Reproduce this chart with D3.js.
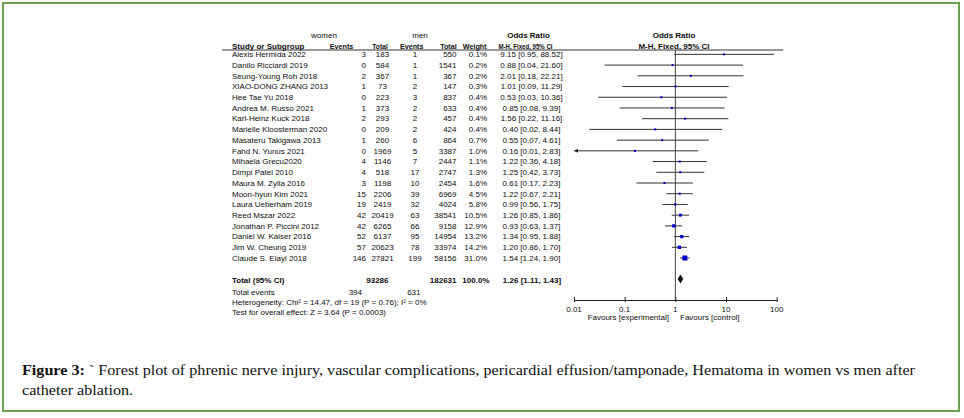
<!DOCTYPE html>
<html>
<head>
<meta charset="utf-8">
<script src="https://cdn.jsdelivr.net/npm/d3@7"></script>
<style>
html,body{margin:0;padding:0;background:#fff;}
svg{display:block;}
text{font-family:"Liberation Sans",Arial,sans-serif;fill:#0e0e0e;}
text.narrow{font-family:"Liberation Sans Narrow","Arial Narrow","Liberation Sans",sans-serif;}
</style>
</head>
<body>
<svg id="chart" width="964" height="418"></svg>
<script>
const studies = ["Alexis Hermida 2022","Danilo Ricciardi 2019","Seung-Young Roh 2018","XIAO-DONG ZHANG 2013","Hee Tae Yu 2018","Andrea M. Russo 2021","Karl-Heinz Kuck 2018","Marielle Kloosterman 2020","Masateru Takigawa 2013","Fahd N. Yunus 2021","Mihaela Grecu2020","Dimpi Patel 2010","Maura M. Zylla 2016","Moon-hyun Kim 2021","Laura Ueberham 2019","Reed Mszar 2022","Jonathan P. Piccini 2012","Daniel W. Kaiser 2016","Jim W. Cheung 2019","Claude S. Elayi 2018"];
const womenEvents = [3,0,2,1,0,1,2,0,1,0,4,4,3,15,19,42,42,52,57,146];
const womenTotal = [183,584,367,73,223,373,293,209,260,1969,1146,518,1198,2206,2419,20419,6265,6137,20623,27821];
const menEvents = [1,1,1,2,3,2,2,2,6,5,7,17,10,39,32,63,66,95,78,199];
const menTotal = [550,1541,367,147,837,633,457,424,864,3387,2447,2747,2454,6969,4024,38541,9158,14954,33974,58156];
const weights = [0.1,0.2,0.2,0.3,0.4,0.4,0.4,0.4,0.7,1.0,1.1,1.3,1.6,4.5,5.8,10.5,12.9,13.2,14.2,31.0];
const oddsRatio = [9.15,0.88,2.01,1.01,0.53,0.85,1.56,0.40,0.55,0.16,1.22,1.25,0.61,1.22,0.99,1.26,0.93,1.34,1.20,1.54];
const ciLow = [0.95,0.04,0.18,0.09,0.03,0.08,0.22,0.02,0.07,0.01,0.36,0.42,0.17,0.67,0.56,0.85,0.63,0.95,0.86,1.24];
const ciHigh = [88.52,21.60,22.21,11.29,10.36,9.39,11.16,8.44,4.61,2.83,4.18,3.73,2.23,2.21,1.75,1.86,1.37,1.88,1.70,1.90];
const total = {women:93286, men:182631, weight:"100.0%", or:1.26, lo:1.11, hi:1.43};
const totalEvents = {women:394, men:631};
const axisTicks = [0.01, 0.1, 1, 10, 100];
const tickLabels = ["0.01","0.1","1","10","100"];
const heterogeneity = "Heterogeneity: Chi² = 14.47, df = 19 (P = 0.76); I² = 0%";
const overallTest = "Test for overall effect: Z = 3.64 (P = 0.0003)";
const captionBold = "Figure 3:";
const captionLine1 = " ` Forest plot of phrenic nerve injury, vascular complications, pericardial effusion/tamponade, Hematoma in women vs men after";
const captionLine2 = "catheter ablation.";

const svg = d3.select("#chart");
const fmt2 = d3.format(".2f");
const ciText = (o,l,h) => `${fmt2(o)} [${fmt2(l)}, ${fmt2(h)}]`;

// border
svg.append("rect").attr("x",3).attr("y",3).attr("width",956).attr("height",408)
  .attr("fill","none").attr("stroke","#6e9f52").attr("stroke-width",2);

const x = d3.scaleLog().domain([0.01,100]).range([574,776.7]);
const y = d3.scaleBand().domain(studies).range([49,49+studies.length*10.72]);
const yc = s => y(s) + y.bandwidth()/2;

const FS = 8;
function txt(xp, yp, s, anchor="start", bold=false, len=null) {
  const t = svg.append("text").attr("x",xp).attr("y",yp).attr("dy","0.35em")
    .attr("text-anchor",anchor).attr("font-size",FS)
    .attr("font-weight", bold ? "bold" : "normal").text(s);
  if (len) {
    t.attr("class","narrow");
    const w = t.node().getComputedTextLength();
    if (Math.abs(w-len) > 1) t.attr("textLength",len).attr("lengthAdjust","spacingAndGlyphs");
  }
  return t;
}

// headers
txt(324,35,"women","middle");
txt(420,35,"men","middle");
txt(528.5,35,"Odds Ratio","middle",true);
txt(674,35,"Odds Ratio","middle",true);
const hy = 46.5;
txt(232,hy,"Study or Subgroup","start",true);
txt(341.5,hy,"Events","middle",true,23.5);
txt(380,hy,"Total","middle",true,15.5);
txt(411.7,hy,"Events","middle",true,23.5);
txt(456.7,hy,"Total","end",true,16.5);
txt(486.7,hy,"Weight","end",true,24);
txt(525.5,hy,"M-H, Fixed, 95% CI","middle",true,54);
txt(674,hy,"M-H, Fixed, 95% CI","middle",true);
svg.append("line").attr("x1",222).attr("x2",783).attr("y1",50).attr("y2",50)
  .attr("stroke","#333").attr("stroke-width",1);

// rows
studies.forEach((s,i) => {
  const yy = yc(s);
  txt(232,yy,s);
  txt(366,yy,womenEvents[i],"end");
  txt(382.5,yy,womenTotal[i],"middle");
  txt(415,yy,menEvents[i],"middle");
  txt(456.5,yy,menTotal[i],"end");
  txt(487,yy,d3.format(".1f")(weights[i])+"%","end");
  txt(531.5,yy,ciText(oddsRatio[i],ciLow[i],ciHigh[i]),"middle");
});

// vertical line at OR = 1
svg.append("line").attr("x1",x(1)).attr("x2",x(1)).attr("y1",50).attr("y2",300)
  .attr("stroke","#444").attr("stroke-width",1);

// CI lines and squares
const g = svg.append("g");
studies.forEach((s,i) => {
  const yy = yc(s);
  const lo = Math.max(ciLow[i], x.domain()[0]);
  const hi = Math.min(ciHigh[i], x.domain()[1]);
  g.append("line").attr("x1",x(lo)).attr("x2",x(hi)).attr("y1",yy).attr("y2",yy)
    .attr("stroke","#333").attr("stroke-width",1);
  if (ciLow[i] <= x.domain()[0]) {
    const ax = x(x.domain()[0]);
    g.append("path").attr("d",`M${ax},${yy} L${ax+4},${yy-2} L${ax+4},${yy+2} Z`).attr("fill","#222");
  }
  const side = Math.max(2, 9*Math.sqrt(weights[i]/100));
  g.append("rect").attr("x",x(oddsRatio[i])-side/2).attr("y",yy-side/2)
    .attr("width",side).attr("height",side).attr("fill","#0000c8");
});

// total row
const ty = 280.5;
txt(232,ty,"Total (95% CI)","start",true);
txt(388.5,ty,total.women,"end",true);
txt(456.5,ty,total.men,"end",true);
txt(489.5,ty,total.weight,"end",true);
txt(532,ty,ciText(total.or,total.lo,total.hi),"middle",true);
const dy = 279;
svg.append("path")
  .attr("d",`M${x(total.lo)},${dy} L${x(total.or)},${dy-4.5} L${x(total.hi)},${dy} L${x(total.or)},${dy+4.5} Z`)
  .attr("fill","#111");

txt(232,292.5,"Total events");
txt(362,292.5,totalEvents.women,"end");
txt(420.5,292.5,totalEvents.men,"end");
txt(232,302.5,heterogeneity);
txt(232,312.5,overallTest);

// axis
const axisY = 300;
const axis = d3.axisBottom(x).tickValues(axisTicks).tickFormat((d,i)=>tickLabels[i]).tickSize(0).tickPadding(0);
const ag = svg.append("g").attr("transform",`translate(0,${axisY})`).call(axis);
ag.select(".domain").attr("stroke","#222").attr("stroke-width",1);
ag.selectAll(".tick text").remove();
ag.selectAll(".tick line").attr("y1",-3).attr("y2",2).attr("stroke","#222");
axisTicks.forEach((t,i)=> txt(x(t),309,tickLabels[i],"middle"));
txt(669,317,"Favours [experimental]","end");
txt(680,317,"Favours [control]","start");

// caption
const capFont = '"Liberation Serif","Times New Roman",serif';
const capSize = 15.5;
const cap1 = svg.append("text").attr("x",22).attr("y",375)
  .style("font-family",capFont).attr("font-size",capSize).style("fill","#111");
cap1.append("tspan").attr("font-weight","bold").text(captionBold);
cap1.append("tspan").text(captionLine1);
const w1 = cap1.node().getComputedTextLength();
const target = 893;
if (Math.abs(w1-target) > 3) cap1.attr("textLength",target).attr("lengthAdjust","spacingAndGlyphs");
const cap2 = svg.append("text").attr("x",22).attr("y",394.5)
  .style("font-family",capFont).attr("font-size",capSize).style("fill","#111")
  .text(captionLine2);
const w2 = cap2.node().getComputedTextLength();
cap2.attr("textLength", w2*target/w1).attr("lengthAdjust","spacingAndGlyphs");
</script>
</body>
</html>
